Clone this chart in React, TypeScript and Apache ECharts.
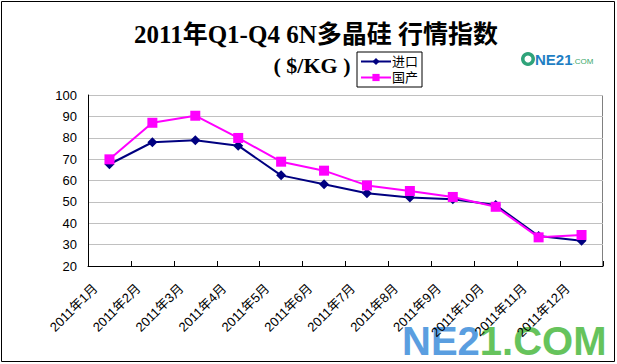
import React, { useEffect, useRef } from 'react';
import * as echarts from 'echarts';

const categories = [
  '2011年1月', '2011年2月', '2011年3月', '2011年4月', '2011年5月', '2011年6月',
  '2011年7月', '2011年8月', '2011年9月', '2011年10月', '2011年11月', '2011年12月',
];
const importValues = [67.6, 77.9, 78.8, 76.3, 62.4, 58.2, 54.0, 52.1, 51.2, 48.5, 34.0, 31.8];
const domesticValues = [69.9, 87.0, 90.3, 79.9, 68.8, 64.6, 57.7, 55.1, 52.3, 47.7, 33.4, 34.5];
const seriesNames = ['进口', '国产'];
const titleLine1 = '2011年Q1-Q4 6N多晶硅 行情指数';
const titleLine2 = '( $/KG )';
const yMin = 20;
const yMax = 100;
const yStep = 10;

const CN = "'Liberation Serif', 'Noto Sans CJK SC', serif";
const SANS = "'Liberation Sans', 'Noto Sans CJK SC', sans-serif";

export default function App() {
  const ref = useRef<HTMLDivElement>(null);
  useEffect(() => {
    if (!ref.current) return;
    const chart = echarts.init(ref.current, null, { renderer: 'svg' });
    chart.setOption({
      animation: false,
      backgroundColor: '#ffffff',
      grid: { left: 88, right: 14, top: 95, bottom: 98, containLabel: false },
      legend: {
        data: seriesNames,
        orient: 'vertical',
        left: 357,
        top: 52,
        itemWidth: 30,
        itemHeight: 9,
        itemGap: 3,
        padding: [3, 4, 3, 3],
        borderColor: '#000',
        borderWidth: 1,
        backgroundColor: '#fff',
        textStyle: { fontFamily: SANS, fontSize: 13, color: '#000', padding: [0, 0, 0, -4] },
      },
      xAxis: {
        type: 'category',
        data: categories,
        boundaryGap: true,
        axisLine: { lineStyle: { color: '#000', width: 1 } },
        axisTick: { show: true, inside: true, length: 5, lineStyle: { color: '#000' } },
        axisLabel: {
          rotate: 45,
          interval: 0,
          margin: 6,
          padding: [0, 20, 0, 0],
          fontFamily: SANS,
          fontSize: 13,
          color: '#000',
        },
        splitLine: { show: false },
      },
      yAxis: {
        type: 'value',
        min: yMin,
        max: yMax,
        interval: yStep,
        axisLine: { show: true, lineStyle: { color: '#000', width: 1 } },
        axisTick: { show: false },
        axisLabel: { margin: 11, fontFamily: SANS, fontSize: 13, color: '#000' },
        splitLine: { show: true, lineStyle: { color: '#c0c0c0', width: 1 } },
      },
      graphic: [
        {
          type: 'rect',
          shape: { x: 1.5, y: 1.5, width: 613, height: 360 },
          style: { fill: 'none', stroke: '#000', lineWidth: 1 },
          silent: true,
          z: -1,
        },
        {
          type: 'polyline',
          shape: { points: [[88, 95.5], [602.5, 95.5], [602.5, 266]] },
          style: { fill: 'none', stroke: '#808080', lineWidth: 1 },
          silent: true,
        },
        {
          type: 'text',
          x: 316,
          y: 34,
          style: {
            text: titleLine1,
            fontFamily: CN,
            fontSize: 25,
            fontWeight: 'bold',
            fill: '#000',
            align: 'center',
            verticalAlign: 'middle',
          },
        },
        {
          type: 'text',
          x: 312,
          y: 65,
          style: {
            text: titleLine2,
            fontFamily: CN,
            fontSize: 22,
            fontWeight: 'bold',
            fill: '#000',
            align: 'center',
            verticalAlign: 'middle',
          },
        },
        {
          type: 'ring',
          shape: { cx: 528, cy: 59, r: 7, r0: 3.5 },
          style: { fill: '#2fa37a' },
          silent: true,
        },
        {
          type: 'text',
          x: 535,
          y: 59,
          style: {
            text: '{b|NE21}{g|.COM}',
            verticalAlign: 'middle',
            rich: {
              b: { fontSize: 15, fontWeight: 'bold', fill: '#1f7fc4', fontFamily: SANS },
              g: { fontSize: 8, fill: '#3aa86b', fontFamily: SANS, padding: [4, 0, 0, 0] },
            },
          },
        },
        {
          type: 'text',
          x: 402,
          y: 341,
          style: {
            text: '{b|NE2}{g|1.COM}',
            verticalAlign: 'middle',
            rich: {
              b: { fontSize: 40, fontWeight: 'bold', fill: '#5a9ee0', fontFamily: SANS },
              g: { fontSize: 40, fontWeight: 'bold', fill: '#66c35c', fontFamily: SANS },
            },
          },
          z: 0,
        },
      ],
      series: [
        {
          name: seriesNames[0],
          type: 'line',
          data: importValues,
          symbol: 'diamond',
          symbolSize: 10,
          lineStyle: { color: '#000080', width: 2 },
          itemStyle: { color: '#000080' },
          z: 3,
        },
        {
          name: seriesNames[1],
          type: 'line',
          data: domesticValues,
          symbol: 'rect',
          symbolSize: 10,
          lineStyle: { color: '#ff00ff', width: 2 },
          itemStyle: { color: '#ff00ff' },
          z: 4,
        },
      ],
    });
    return () => chart.dispose();
  }, []);
  return (
    <div
      ref={ref}
      style={{ position: 'fixed', left: 0, top: 0, width: 617, height: 364 }}
    />
  );
}
